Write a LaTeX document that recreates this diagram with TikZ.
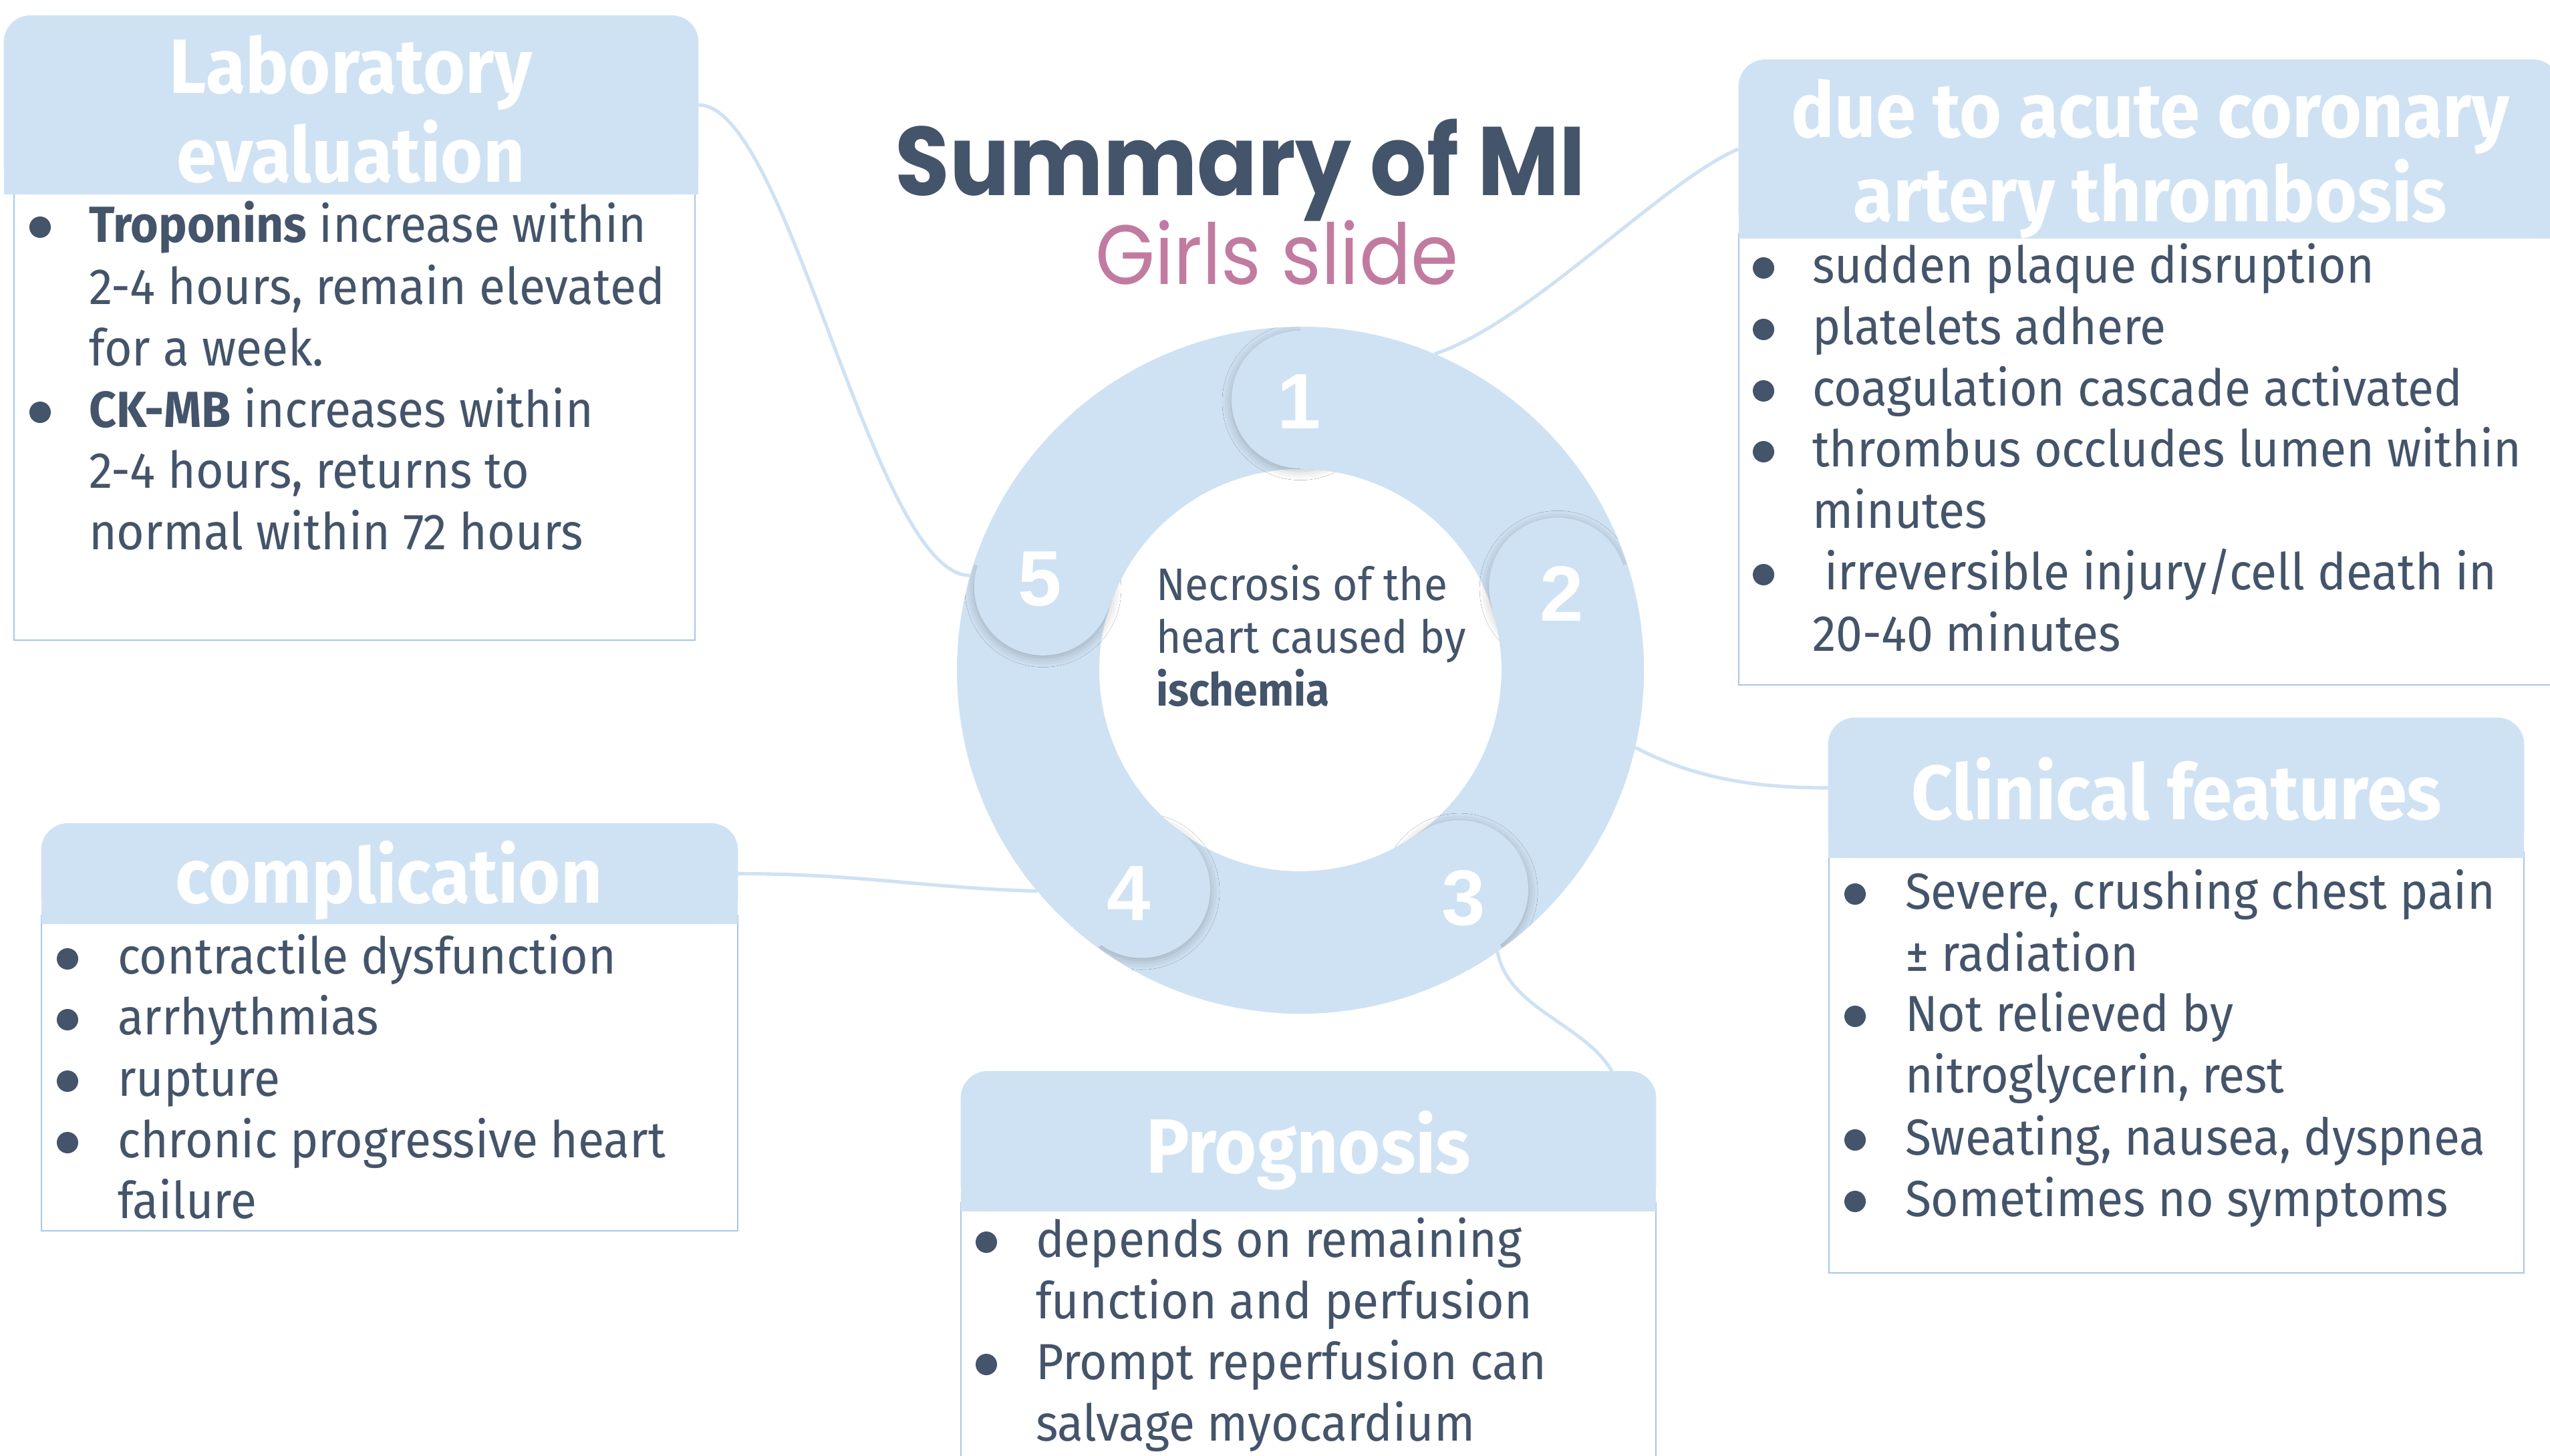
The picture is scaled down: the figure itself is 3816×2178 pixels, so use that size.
\documentclass[tikz,border=0pt]{standalone}
\usepackage{fontspec}
\setmainfont{Fira Sans}[FakeStretch=0.94]
\newfontfamily\titlefont{Poppins}[FakeStretch=0.91]
\newfontfamily\numfont{Liberation Sans}
\usetikzlibrary{shadows.blur}

\definecolor{hdrblue}{HTML}{CFE2F3}
\definecolor{edge}{HTML}{A7C7E7}
\definecolor{ink}{HTML}{44546A}
\definecolor{rose}{HTML}{C27BA0}

\tikzset{
  txt/.style={anchor=base west, inner sep=0pt, outer sep=0pt, text=ink,
              font=\fontsize{21.6}{26}\selectfont},
  ctxt/.style={anchor=base west, inner sep=0pt, outer sep=0pt, text=ink,
              font=\fontsize{19.4}{23}\selectfont},
  htxt/.style={anchor=base, inner sep=0pt, outer sep=0pt, text=white,
               font=\bfseries\fontsize{32.7}{38}\selectfont},
  bul/.style={circle, fill=ink, inner sep=0pt, minimum size=0.32cm},
  hdr/.style={fill=hdrblue, rounded corners=0.4cm, inner sep=0pt, outer sep=0pt},
  bodybox/.style={draw=edge, line width=0.6pt, fill=white, inner sep=0pt, outer sep=0pt},
  conn/.style={draw=hdrblue, line width=1.45pt},
  num/.style={text=white, inner sep=0pt, font=\numfont\bfseries\fontsize{33.4}{40}\selectfont},
  capshade/.style={blur shadow={shadow xshift=0pt, shadow yshift=-1pt,
                   shadow blur radius=4pt, shadow opacity=25}}
}

\begin{document}
\begin{tikzpicture}[x=0.01cm, y=-0.01cm]
\useasboundingbox (0,0) rectangle (3816,2178);
\fill[white] (0,0) rectangle (3816,2178);

% ---------- boxes: body first, header on top ----------
\node[bodybox, minimum width=10.19cm, minimum height=6.78cm] (labB) at (530.5,619) {};
\node[hdr, minimum width=10.39cm, minimum height=2.68cm] (labH) at (525.5,157) {};
\fill[hdrblue] (labH.west) rectangle (labH.south east);

\node[bodybox, minimum width=12.28cm, minimum height=6.75cm] (cauB) at (3216,687.5) {};
\node[hdr, minimum width=12.28cm, minimum height=2.68cm] (cauH) at (3216,223) {};
\fill[hdrblue] (cauH.west) rectangle (cauH.south east);

\node[bodybox, minimum width=10.40cm, minimum height=6.30cm] (cliB) at (3257,1590) {};
\node[hdr, minimum width=10.41cm, minimum height=2.10cm] (cliH) at (3256.5,1179) {};
\fill[hdrblue] (cliH.west) rectangle (cliH.south east);

\node[bodybox, minimum width=10.42cm, minimum height=4.72cm] (comB) at (583,1606) {};
\node[hdr, minimum width=10.42cm, minimum height=1.51cm] (comH) at (583,1307.5) {};
\fill[hdrblue] (comH.west) rectangle (comH.south east);

\node[bodybox, minimum width=10.40cm, minimum height=4.40cm] (proB) at (1958,2020) {};
\node[hdr, minimum width=10.40cm, minimum height=2.10cm] (proH) at (1958,1708) {};
\fill[hdrblue] (proH.west) rectangle (proH.south east);

% ---------- central ring ----------
\node[circle, minimum size=10.28cm, inner sep=0pt, outer sep=0pt] (ring) at (1946,1003) {};
\coordinate (proIn) at (2412,1603);

% connectors
\draw[conn] (labH.east) .. controls +(135,0) and +(-145,0) .. (ring.164);
\draw[conn] (ring.67) .. controls +(140,-45) and +(-110,45) .. (cauH.west);
\draw[conn] (ring.-13) .. controls +(100,52) and +(-90,0) .. (cliH.west);
\draw[conn] (comH.east) .. controls +(180,0) and +(-170,-5) .. (ring.220);
\draw[conn] (ring.-55) .. controls +(15,85) and +(-40,-70) .. (proIn);

\begin{scope}[shift={(1946,1003)}, y=0.01cm]
  \fill[hdrblue, even odd rule] (0,0) circle (514) (0,0) circle (301);
  % rounded segment heads, each with a soft shadow on its leading side
  \begin{scope}
    \clip (0,0) circle (514);
    \foreach \a in {90,18,-54,-126,162}{
      \fill[hdrblue, capshade] (\a:405) circle (103);
      \fill[hdrblue] (\a:514) arc[start angle=\a, end angle=\a-40, radius=514]
        -- (\a-40:301) arc[start angle=\a-40, end angle=\a, radius=301] -- cycle;
    }
  \end{scope}
\end{scope}

\node[num] (n1) at (1944,601) {1};
\node[num] (n2) at (2337,888) {2};
\node[num] (n3) at (2190,1344) {3};
\node[num] (n4) at (1689,1337) {4};
\node[num] (n5) at (1556,867) {5};

\node[ctxt] (mid1) at (1730,898) {Necrosis of the};
\node[ctxt] (mid2) at (1730,977) {heart caused by};
\node[ctxt] (mid3) at (1730,1056) {\textbf{ischemia}};

% ---------- title ----------
\node[anchor=base, inner sep=0pt, text=ink, font=\titlefont\bfseries\fontsize{41.5}{48}\selectfont] (title) at (1856,292) {Summary of MI};
\node[anchor=base, inner sep=0pt, text=rose, font=\titlefont\fontsize{35.8}{42}\selectfont] (subtitle) at (1911,425) {Girls slide};

% ---------- header titles ----------
\node[htxt] (labT1) at (525,139) {Laboratory};
\node[htxt] (labT2) at (525,272) {evaluation};
\node[htxt] (cauT1) at (3218,205) {due to acute coronary};
\node[htxt] (cauT2) at (3218,331) {artery thrombosis};
\node[htxt] (cliT) at (3257,1226) {Clinical features};
\node[htxt] (comT) at (582,1351) {complication};
\node[htxt] (proT) at (1958,1755) {Prognosis};

% ---------- laboratory evaluation ----------
\foreach \y in {362,639} \node[bul] at (60,\y-22) {};
\node[txt] (lab1) at (133,362) {\textbf{Troponins} increase within};
\node[txt] (lab2) at (133,455) {2-4 hours, remain elevated};
\node[txt] (lab3) at (133,547) {for a week.};
\node[txt] (lab4) at (133,639) {\textbf{CK-MB} increases within};
\node[txt] (lab5) at (133,730) {2-4 hours, returns to};
\node[txt] (lab6) at (133,822) {normal within 72 hours};

% ---------- cause ----------
\foreach \y in {423,515,607,698,882} \node[bul] at (2639,\y-22) {};
\node[txt] (cau1) at (2712,423) {sudden plaque disruption};
\node[txt] (cau2) at (2712,515) {platelets adhere};
\node[txt] (cau3) at (2712,607) {coagulation cascade activated};
\node[txt] (cau4) at (2712,698) {thrombus occludes lumen within};
\node[txt] (cau5) at (2712,790) {minutes};
\node[txt] (cau6) at (2730,882) {irreversible injury/cell death in};
\node[txt] (cau7) at (2712,974) {20-40 minutes};

% ---------- clinical features ----------
\foreach \y in {1360,1543,1728,1820} \node[bul] at (2776,\y-22) {};
\node[txt] (cli1) at (2851,1360) {Severe, crushing chest pain};
\node[txt] (cli2) at (2851,1453) {± radiation};
\node[txt] (cli3) at (2851,1543) {Not relieved by};
\node[txt] (cli4) at (2851,1635) {nitroglycerin, rest};
\node[txt] (cli5) at (2851,1728) {Sweating, nausea, dyspnea};
\node[txt] (cli6) at (2851,1820) {Sometimes no symptoms};

% ---------- complication ----------
\foreach \y in {1457,1548,1640,1732} \node[bul] at (101,\y-22) {};
\node[txt] (com1) at (176,1457) {contractile dysfunction};
\node[txt] (com2) at (176,1548) {arrhythmias};
\node[txt] (com3) at (176,1640) {rupture};
\node[txt] (com4) at (176,1732) {chronic progressive heart};
\node[txt] (com5) at (176,1823) {failure};

% ---------- prognosis ----------
\foreach \y in {1881,2064} \node[bul] at (1476,\y-22) {};
\node[txt] (pro1) at (1550,1881) {depends on remaining};
\node[txt] (pro2) at (1550,1973) {function and perfusion};
\node[txt] (pro3) at (1550,2064) {Prompt reperfusion can};
\node[txt] (pro4) at (1550,2156) {salvage myocardium};
\end{tikzpicture}
\end{document}
